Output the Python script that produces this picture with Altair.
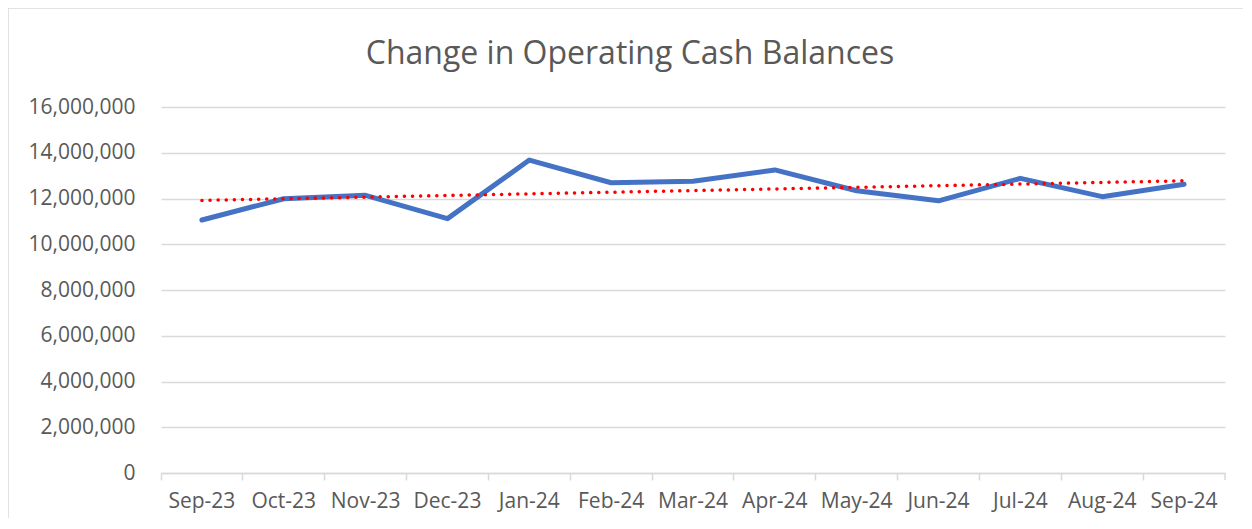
import json
import altair as alt
import pandas as pd

months = ["Sep-23", "Oct-23", "Nov-23", "Dec-23", "Jan-24", "Feb-24", "Mar-24",
          "Apr-24", "May-24", "Jun-24", "Jul-24", "Aug-24", "Sep-24"]
values = [11060000, 11990000, 12140000, 11120000, 13680000, 12690000, 12750000,
          13250000, 12340000, 11900000, 12880000, 12080000, 12620000]
y_ticks = [0, 2000000, 4000000, 6000000, 8000000, 10000000, 12000000, 14000000, 16000000]
title_text = "Change in Operating Cash Balances"

df = pd.DataFrame({"month": months, "value": values, "idx": list(range(len(months)))})

W, H = 1064, 366
FONT = "Open Sans"
TXT = "#595959"
GRID = "#d9d9d9"

xscale = alt.Scale(type="band", paddingInner=0, paddingOuter=0)
yscale = alt.Scale(domain=[0, 16000000], nice=False)

xaxis = alt.Axis(title=None, bandPosition=0,
                 labelFont=FONT, labelFontSize=21, labelColor=TXT, labelAngle=0,
                 tickColor=GRID, tickSize=7, tickWidth=1.5,
                 domainColor=GRID, domainWidth=1.5, labelPadding=10, grid=False)
yaxis = alt.Axis(title=None, values=y_ticks, labelExpr="format(datum.value, ',')",
                 grid=True, gridColor=GRID,
                 gridWidth=1.5, domain=False, ticks=False, labelPadding=26,
                 labelFont=FONT, labelFontSize=21, labelColor=TXT)

one = pd.DataFrame({"a": [0]})

border = alt.Chart(one).mark_rect(fillOpacity=0, stroke=GRID, strokeWidth=1.5).encode(
    x=alt.value(-153), x2=alt.value(W + 40), y=alt.value(-99), y2=alt.value(H + 80)
)

line = alt.Chart(df).mark_line(color="#4472C4", strokeWidth=5, strokeCap="round",
                               strokeJoin="round").encode(
    x=alt.X("month:N", sort=months, scale=xscale, axis=xaxis),
    y=alt.Y("value:Q", scale=yscale, axis=yaxis),
)

trend = alt.Chart(df).transform_regression(
    "idx", "value", extent=[0, len(months) - 1]
).transform_calculate(
    month=json.dumps(months) + "[round(datum.idx)]"
).mark_line(color="#FF0000", strokeWidth=3.5, strokeDash=[0.1, 8],
            strokeCap="round").encode(
    x=alt.X("month:N", sort=months, scale=xscale, axis=xaxis),
    y=alt.Y("value:Q", scale=yscale, axis=yaxis),
)

end_tick = alt.Chart(one).mark_rule(color=GRID, strokeWidth=1.5).encode(
    x=alt.value(W), y=alt.value(H), y2=alt.value(H + 7)
)

chart = alt.layer(border, line, trend, end_tick).properties(
    width=W, height=H,
    autosize=alt.AutoSizeParams(type="none"),
    padding={"left": 153, "top": 99, "right": 18, "bottom": 45},
    title=alt.TitleParams(text=title_text, font=FONT, fontSize=32, fontWeight="normal",
                          color=TXT, anchor="middle", frame="group", dx=-63,
                          offset=0, baseline="alphabetic", dy=89),
    background="white",
).configure_view(strokeWidth=0)

chart.save("out.html", embed_options={"renderer": "svg", "actions": False})
